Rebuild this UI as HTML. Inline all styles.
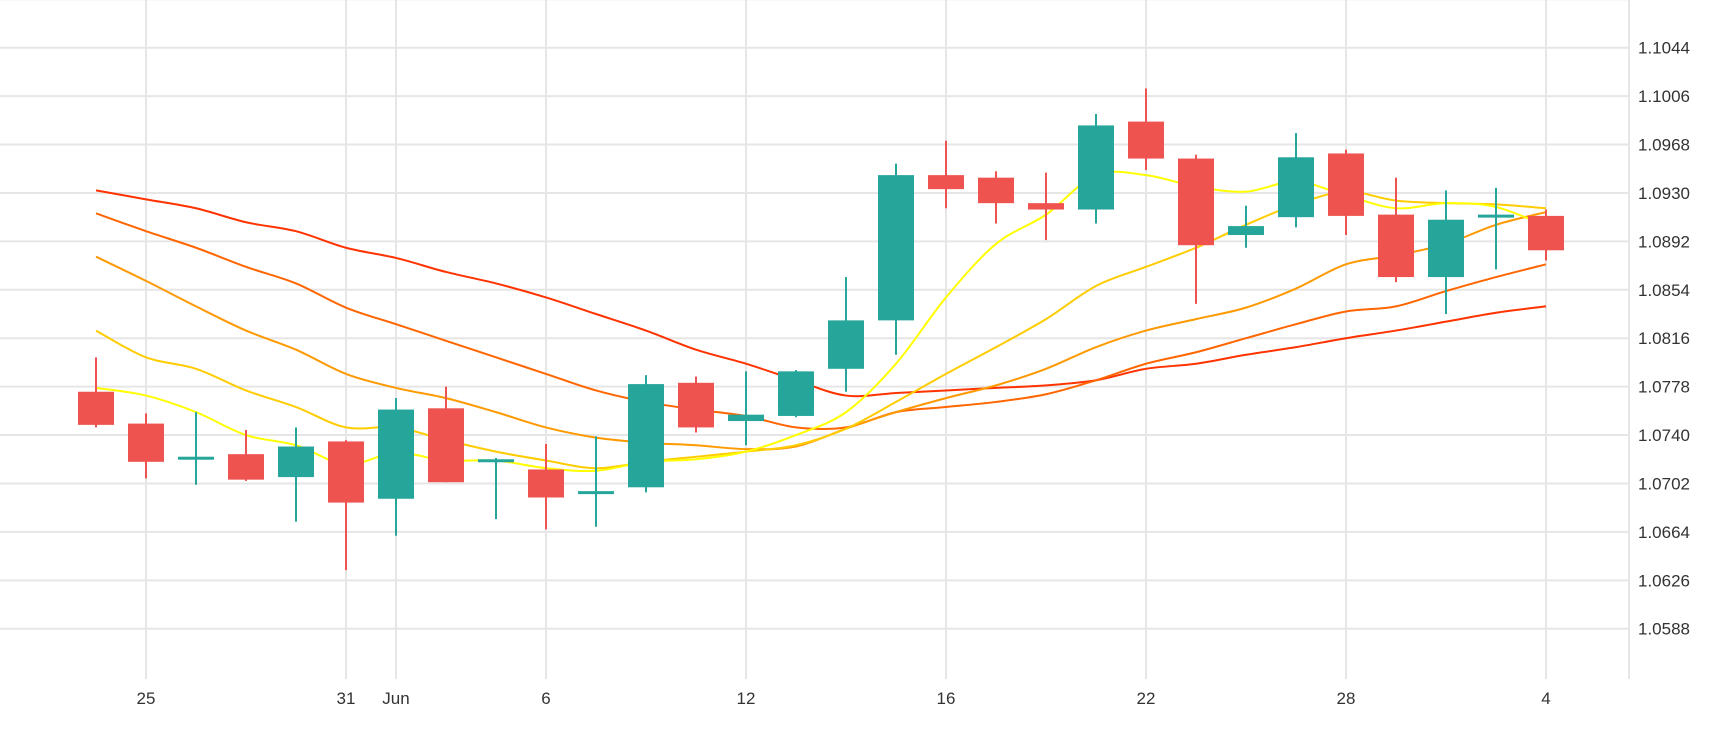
<!DOCTYPE html>
<html><head><meta charset="utf-8"><style>
html,body{margin:0;padding:0;background:#fff;}
svg{display:block;font-family:"Liberation Sans",sans-serif;}
</style></head><body>
<svg id="chart" width="1730" height="730" xmlns="http://www.w3.org/2000/svg">
<g id="grid"></g>
<g id="lines"></g>
<g id="candles"></g>
<g id="axes"></g>
</svg>
<script>
const dates = ["May 24","25","26","29","30","31","Jun","2","5","6","7","8","9","12","13","14","15","16","19","20","21","22","23","26","27","28","29","30","3","4"];
const tickIdx = [1,5,6,9,13,17,21,25,29];
const tickLabels = ["25","31","Jun","6","12","16","22","28","4"];
const yTicks = [1.1044,1.1006,1.0968,1.0930,1.0892,1.0854,1.0816,1.0778,1.0740,1.0702,1.0664,1.0626,1.0588];
const opens  = [1.0774,1.0749,1.0722,1.0725,1.0707,1.0735,1.0690,1.0761,1.0720,1.0713,1.0695,1.0699,1.0781,1.0751,1.0755,1.0792,1.0830,1.0944,1.0942,1.0922,1.0917,1.0986,1.0957,1.0897,1.0911,1.0961,1.0913,1.0864,1.0912,1.0912];
const highs  = [1.0801,1.0757,1.0758,1.0744,1.0746,1.0736,1.0769,1.0778,1.0722,1.0733,1.0739,1.0787,1.0786,1.0790,1.0791,1.0864,1.0953,1.0971,1.0947,1.0946,1.0992,1.1012,1.0960,1.0920,1.0977,1.0964,1.0942,1.0932,1.0934,1.0917];
const lows   = [1.0746,1.0706,1.0701,1.0704,1.0672,1.0634,1.0661,1.0703,1.0674,1.0666,1.0668,1.0695,1.0742,1.0732,1.0754,1.0774,1.0803,1.0918,1.0906,1.0893,1.0906,1.0948,1.0843,1.0887,1.0903,1.0897,1.0860,1.0835,1.0870,1.0877];
const closes = [1.0748,1.0719,1.0723,1.0705,1.0731,1.0687,1.0760,1.0703,1.0721,1.0691,1.0696,1.0780,1.0746,1.0756,1.0790,1.0830,1.0944,1.0933,1.0922,1.0917,1.0983,1.0957,1.0889,1.0904,1.0958,1.0912,1.0864,1.0909,1.0913,1.0885];
const maYellow = [1.0777,1.0771,1.0758,1.0740,1.0732,1.0717,1.0726,1.0720,1.0720,1.0714,1.0712,1.0719,1.0721,1.0727,1.0740,1.0758,1.0796,1.0848,1.0890,1.0913,1.0944,1.0944,1.0935,1.0931,1.0939,1.0928,1.0918,1.0922,1.0919,1.0904];
const maGold = [1.0822,1.0801,1.0792,1.0775,1.0762,1.0746,1.0746,1.0736,1.0727,1.0720,1.0714,1.0719,1.0723,1.0727,1.0732,1.0745,1.0766,1.0788,1.0809,1.0831,1.0857,1.0872,1.0887,1.0905,1.0921,1.0931,1.0924,1.0922,1.0921,1.0918];
const maOrange = [1.0880,1.0861,1.0841,1.0822,1.0807,1.0788,1.0777,1.0769,1.0758,1.0746,1.0738,1.0734,1.0732,1.0729,1.0731,1.0745,1.0758,1.0769,1.0779,1.0792,1.0809,1.0822,1.0831,1.0840,1.0855,1.0874,1.0881,1.0890,1.0905,1.0915];
const maDark = [1.0914,1.0900,1.0887,1.0872,1.0859,1.0840,1.0827,1.0814,1.0801,1.0788,1.0775,1.0766,1.0760,1.0755,1.0746,1.0746,1.0758,1.0762,1.0766,1.0772,1.0783,1.0796,1.0805,1.0816,1.0827,1.0837,1.0841,1.0853,1.0864,1.0874];
const maRed = [1.0932,1.0925,1.0918,1.0907,1.0900,1.0887,1.0879,1.0868,1.0859,1.0848,1.0835,1.0822,1.0807,1.0796,1.0783,1.0771,1.0773,1.0775,1.0777,1.0779,1.0783,1.0792,1.0796,1.0803,1.0809,1.0816,1.0822,1.0829,1.0836,1.0841];

const NS="http://www.w3.org/2000/svg";
const plotRight=1629, plotBottom=679;
function x(i){return 96+i*50;}
function y(p){return 47.7+(1.1044-p)/0.0038*48.42;}
function mk(tag,attrs,parent){const e=document.createElementNS(NS,tag);for(const k in attrs)e.setAttribute(k,attrs[k]);parent.appendChild(e);return e;}
const grid=document.getElementById('grid'),axes=document.getElementById('axes'),linesG=document.getElementById('lines'),cg=document.getElementById('candles');

for(let k=-1;k<=12;k++){
  const yy=y(1.1044-k*0.0038);
  const l=mk('line',{x1:0,x2:plotRight,y1:yy,y2:yy,stroke:'#e6e6e6','stroke-width':2},grid);
  
  
}
tickIdx.forEach((ti,j)=>{
  const l=mk('line',{x1:x(ti),x2:x(ti),y1:0,y2:plotBottom,stroke:'#e6e6e6','stroke-width':2},grid);
  
  
  const t=mk('text',{x:x(ti),y:704,'text-anchor':'middle','font-size':17,fill:'#333'},axes);
  t.textContent=tickLabels[j];
  
  
});
const rb=mk('line',{x1:plotRight,x2:plotRight,y1:0,y2:plotBottom,stroke:'#e6e6e6','stroke-width':2},grid);


yTicks.forEach(v=>{
  const t=mk('text',{x:1638,y:y(v)+6,'font-size':17,fill:'#333'},axes);
  t.textContent=v.toFixed(4);
  
  
});

function smooth(arr){
  const pts=arr.map((v,i)=>[x(i),y(v)]);
  let d='M'+pts[0][0]+','+pts[0][1];
  for(let i=0;i<pts.length-1;i++){
    const p0=pts[Math.max(0,i-1)],p1=pts[i],p2=pts[i+1],p3=pts[Math.min(pts.length-1,i+2)];
    const c1=[p1[0]+(p2[0]-p0[0])/6,p1[1]+(p2[1]-p0[1])/6];
    const c2=[p2[0]-(p3[0]-p1[0])/6,p2[1]-(p3[1]-p1[1])/6];
    d+=' C'+c1[0]+','+c1[1]+' '+c2[0]+','+c2[1]+' '+p2[0]+','+p2[1];
  }
  return d;
}
[[maRed,'#ff3300','ma-red'],[maDark,'#ff6600','ma-dark-orange'],[maOrange,'#ff9900','ma-orange'],[maGold,'#ffcc00','ma-gold'],[maYellow,'#ffff00','ma-yellow']].forEach(s=>{
  const p=mk('path',{d:smooth(s[0]),fill:'none',stroke:s[1],'stroke-width':2},linesG);
  
  
});

opens.forEach((o,i)=>{
  const c=closes[i],up=c>=o,col=up?'#26a69a':'#ef5350';
  const g=mk('g',{},cg);
  
  
  mk('line',{x1:x(i),x2:x(i),y1:y(highs[i]),y2:y(lows[i]),stroke:col,'stroke-width':2},g);
  const top=y(Math.max(o,c)),h=Math.max(3,Math.abs(y(o)-y(c)));
  mk('rect',{x:x(i)-18,y:top,width:36,height:h,fill:col},g);
});
</script>
</body></html>
